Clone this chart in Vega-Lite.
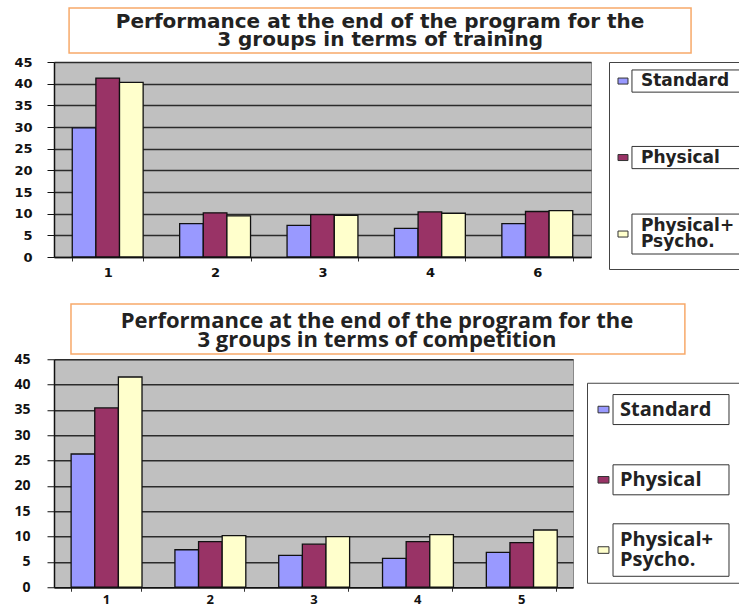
{
  "$schema": "https://vega.github.io/schema/vega-lite/v6.json",
  "padding": {"left": 13, "top": 7, "right": 0, "bottom": 0},
  "background": "white",
  "spacing": 23,
  "datasets": {
    "training": [
      {"group": "1", "series": "Standard", "value": 29.8},
      {"group": "1", "series": "Physical", "value": 41.3},
      {"group": "1", "series": "Physical+ Psycho.", "value": 40.3},
      {"group": "2", "series": "Standard", "value": 7.7},
      {"group": "2", "series": "Physical", "value": 10.2},
      {"group": "2", "series": "Physical+ Psycho.", "value": 9.5},
      {"group": "3", "series": "Standard", "value": 7.3},
      {"group": "3", "series": "Physical", "value": 9.8},
      {"group": "3", "series": "Physical+ Psycho.", "value": 9.6},
      {"group": "4", "series": "Standard", "value": 6.6},
      {"group": "4", "series": "Physical", "value": 10.4},
      {"group": "4", "series": "Physical+ Psycho.", "value": 10.1},
      {"group": "6", "series": "Standard", "value": 7.7},
      {"group": "6", "series": "Physical", "value": 10.5},
      {"group": "6", "series": "Physical+ Psycho.", "value": 10.7}
    ],
    "competition": [
      {"group": "1", "series": "Standard", "value": 26.3},
      {"group": "1", "series": "Physical", "value": 35.4},
      {"group": "1", "series": "Physical+ Psycho.", "value": 41.5},
      {"group": "2", "series": "Standard", "value": 7.4},
      {"group": "2", "series": "Physical", "value": 9.0},
      {"group": "2", "series": "Physical+ Psycho.", "value": 10.2},
      {"group": "3", "series": "Standard", "value": 6.3},
      {"group": "3", "series": "Physical", "value": 8.5},
      {"group": "3", "series": "Physical+ Psycho.", "value": 10.0},
      {"group": "4", "series": "Standard", "value": 5.7},
      {"group": "4", "series": "Physical", "value": 9.0},
      {"group": "4", "series": "Physical+ Psycho.", "value": 10.4},
      {"group": "5", "series": "Standard", "value": 6.9},
      {"group": "5", "series": "Physical", "value": 8.8},
      {"group": "5", "series": "Physical+ Psycho.", "value": 11.3}
    ],
    "legend": [
      {"series": "Standard", "label": "Standard"},
      {"series": "Physical", "label": "Physical"},
      {"series": "Physical+ Psycho.", "label": "Physical+\nPsycho."}
    ],
    "titles": [
      {"chart": "training"},
      {"chart": "competition"}
    ]
  },
  "config": {
    "view": {"fill": "#c0c0c0", "stroke": "#8a8a8a"}
  },
  "vconcat": [
    {
      "spacing": 1,
      "vconcat": [
        {
          "width": 685,
          "height": 45,
          "view": {"stroke": null, "fill": null},
          "data": {"name": "titles"},
          "transform": [{"filter": "datum.chart == 'training'"}],
          "layer": [
            {
              "mark": {"type": "rect", "fill": "white", "stroke": "#f7a96a", "strokeWidth": 1.5},
              "encoding": {
                "x": {"datum": 0.022, "type": "quantitative", "scale": {"domain": [0, 1], "nice": false, "zero": false}, "axis": null},
                "x2": {"datum": 0.93}
              }
            },
            {
              "mark": {"type": "text", "align": "center", "baseline": "middle", "dy": -9, "font": "DejaVu Sans", "fontWeight": "bold", "fontSize": 20, "lineHeight": 18, "color": "#222222"},
              "encoding": {
                "x": {"datum": 0.476, "type": "quantitative"},
                "text": {"value": ["Performance at the end of the program for the", "3 groups in terms of training"]}
              }
            }
          ]
        },
        {
          "spacing": 16,
          "hconcat": [
            {
              "width": 537,
              "height": 195,
              "data": {"name": "training"},
              "mark": {"type": "bar", "stroke": "#111111", "strokeWidth": 1.3},
              "encoding": {
                "x": {
                  "field": "group", "type": "nominal", "sort": null,
                  "scale": {"paddingInner": 0.34, "paddingOuter": 0.17},
                  "axis": {"title": null, "labelAngle": 0, "tickBand": "extent", "domainColor": "#111111", "domainWidth": 1.5, "tickColor": "#333333", "tickSize": 4, "labelPadding": 5, "labelFont": "DejaVu Sans", "labelFontSize": 13, "labelFontWeight": "bold", "labelColor": "#111111", "grid": false}
                },
                "xOffset": {"field": "series", "type": "nominal", "sort": ["Standard", "Physical", "Physical+ Psycho."], "scale": {"paddingInner": 0, "paddingOuter": 0}},
                "y": {
                  "field": "value", "type": "quantitative",
                  "scale": {"domain": [0, 45], "nice": false},
                  "axis": {"title": null, "values": [0, 5, 10, 15, 20, 25, 30, 35, 40, 45], "grid": true, "gridColor": "#2b2b2b", "gridWidth": 1.5, "domainColor": "#111111", "domainWidth": 1.5, "tickColor": "#111111", "tickSize": 7, "labelPadding": 15, "labelFont": "DejaVu Sans", "labelFontSize": 13, "labelFontWeight": "bold", "labelColor": "#111111"}
                },
                "color": {"field": "series", "type": "nominal", "scale": {"domain": ["Standard", "Physical", "Physical+ Psycho."], "range": ["#9999ff", "#993366", "#ffffcc"]}, "legend": null}
              }
            },
            {
              "width": 132,
              "height": 207,
              "data": {"name": "legend"},
              "view": {"stroke": "#444444", "fill": "white"},
              "layer": [
                {
                  "transform": [{"filter": "datum.series != 'Physical+ Psycho.'"}],
                  "mark": {"type": "bar", "fill": "white", "stroke": "#333333", "strokeWidth": 1},
                  "encoding": {
                    "y": {"field": "series", "type": "nominal", "scale": {"domain": ["Standard", "Physical", "Physical+ Psycho."], "paddingInner": 0.71, "paddingOuter": 0.208, "align": 0.25}, "axis": null},
                    "x": {"datum": 0.174, "type": "quantitative", "scale": {"domain": [0, 1], "nice": false, "zero": false}, "axis": null},
                    "x2": {"datum": 0.992}
                  }
                },
                {
                  "transform": [{"filter": "datum.series == 'Physical+ Psycho.'"}],
                  "mark": {"type": "bar", "fill": "white", "stroke": "#333333", "strokeWidth": 1, "height": {"band": 1.8}},
                  "encoding": {
                    "y": {"field": "series", "type": "nominal", "axis": null},
                    "x": {"datum": 0.174, "type": "quantitative"},
                    "x2": {"datum": 0.992}
                  }
                },
                {
                  "mark": {"type": "point", "shape": "M-1,-0.6H1V0.6H-1Z", "filled": true, "size": 100, "stroke": "#333333", "strokeWidth": 1, "opacity": 1},
                  "encoding": {
                    "y": {"field": "series", "type": "nominal", "axis": null},
                    "x": {"datum": 0.106, "type": "quantitative"},
                    "color": {"field": "series", "type": "nominal", "scale": {"domain": ["Standard", "Physical", "Physical+ Psycho."], "range": ["#9999ff", "#993366", "#ffffcc"]}, "legend": null}
                  }
                },
                {
                  "transform": [{"filter": "datum.series != 'Physical+ Psycho.'"}],
                  "mark": {"type": "text", "align": "left", "baseline": "middle", "font": "DejaVu Sans", "fontWeight": "bold", "fontSize": 17, "color": "#222222"},
                  "encoding": {
                    "y": {"field": "series", "type": "nominal", "axis": null},
                    "x": {"datum": 0.242, "type": "quantitative"},
                    "text": {"field": "label"}
                  }
                },
                {
                  "transform": [{"filter": "datum.series == 'Physical+ Psycho.'"}],
                  "mark": {"type": "text", "align": "left", "baseline": "middle", "lineBreak": "\n", "dy": -8, "font": "DejaVu Sans", "fontWeight": "bold", "fontSize": 17, "lineHeight": 16, "color": "#222222"},
                  "encoding": {
                    "y": {"field": "series", "type": "nominal", "axis": null},
                    "x": {"datum": 0.242, "type": "quantitative"},
                    "text": {"field": "label"}
                  }
                }
              ]
            }
          ]
        }
      ]
    },
    {
      "spacing": -4,
      "vconcat": [
        {
          "width": 685,
          "height": 50,
          "view": {"stroke": null, "fill": null},
          "data": {"name": "titles"},
          "transform": [{"filter": "datum.chart == 'competition'"}],
          "layer": [
            {
              "mark": {"type": "rect", "fill": "white", "stroke": "#f7a96a", "strokeWidth": 1.5},
              "encoding": {
                "x": {"datum": 0.0248, "type": "quantitative", "scale": {"domain": [0, 1], "nice": false, "zero": false}, "axis": null},
                "x2": {"datum": 0.921}
              }
            },
            {
              "mark": {"type": "text", "align": "center", "baseline": "middle", "dy": -8, "font": "Open Sans", "fontWeight": "bold", "fontSize": 22, "lineHeight": 19, "color": "#222222"},
              "encoding": {
                "x": {"datum": 0.4715, "type": "quantitative"},
                "text": {"value": ["Performance at the end of the program for the", "3 groups in terms of competition"]}
              }
            }
          ]
        },
        {
          "spacing": 12,
          "center": true,
          "hconcat": [
            {
              "width": 519,
              "height": 228,
              "data": {"name": "competition"},
              "mark": {"type": "bar", "stroke": "#111111", "strokeWidth": 1.3},
              "encoding": {
                "x": {
                  "field": "group", "type": "nominal", "sort": null,
                  "scale": {"paddingInner": 0.33, "paddingOuter": 0.165},
                  "axis": {"title": null, "labelAngle": 0, "tickBand": "extent", "domainColor": "#111111", "domainWidth": 1.5, "tickColor": "#333333", "tickSize": 4, "labelPadding": 2, "labelFont": "Open Sans", "labelFontSize": 13, "labelFontWeight": "bold", "labelColor": "#111111", "grid": false}
                },
                "xOffset": {"field": "series", "type": "nominal", "sort": ["Standard", "Physical", "Physical+ Psycho."], "scale": {"paddingInner": 0, "paddingOuter": 0}},
                "y": {
                  "field": "value", "type": "quantitative",
                  "scale": {"domain": [0, 45], "nice": false},
                  "axis": {"title": null, "values": [0, 5, 10, 15, 20, 25, 30, 35, 40, 45], "grid": true, "gridColor": "#2b2b2b", "gridWidth": 1.5, "domainColor": "#111111", "domainWidth": 1.5, "tickColor": "#111111", "tickSize": 7, "labelPadding": 17, "labelFont": "Open Sans", "labelFontSize": 14, "labelFontWeight": "bold", "labelColor": "#111111"}
                },
                "color": {"field": "series", "type": "nominal", "scale": {"domain": ["Standard", "Physical", "Physical+ Psycho."], "range": ["#9999ff", "#993366", "#ffffcc"]}, "legend": null}
              }
            },
            {
              "width": 154,
              "height": 200,
              "data": {"name": "legend"},
              "view": {"stroke": "#444444", "fill": "white"},
              "layer": [
                {
                  "transform": [{"filter": "datum.series != 'Physical+ Psycho.'"}],
                  "mark": {"type": "bar", "fill": "white", "stroke": "#333333", "strokeWidth": 1},
                  "encoding": {
                    "y": {"field": "series", "type": "nominal", "scale": {"domain": ["Standard", "Physical", "Physical+ Psycho."], "paddingInner": 0.573, "paddingOuter": 0.21, "align": 0.4}, "axis": null},
                    "x": {"datum": 0.169, "type": "quantitative", "scale": {"domain": [0, 1], "nice": false, "zero": false}, "axis": null},
                    "x2": {"datum": 0.922}
                  }
                },
                {
                  "transform": [{"filter": "datum.series == 'Physical+ Psycho.'"}],
                  "mark": {"type": "bar", "fill": "white", "stroke": "#333333", "strokeWidth": 1, "height": {"band": 1.75}},
                  "encoding": {
                    "y": {"field": "series", "type": "nominal", "axis": null},
                    "x": {"datum": 0.169, "type": "quantitative"},
                    "x2": {"datum": 0.922}
                  }
                },
                {
                  "mark": {"type": "point", "shape": "M-1,-0.6H1V0.6H-1Z", "filled": true, "size": 120, "stroke": "#333333", "strokeWidth": 1, "opacity": 1},
                  "encoding": {
                    "y": {"field": "series", "type": "nominal", "axis": null},
                    "x": {"datum": 0.107, "type": "quantitative"},
                    "color": {"field": "series", "type": "nominal", "scale": {"domain": ["Standard", "Physical", "Physical+ Psycho."], "range": ["#9999ff", "#993366", "#ffffcc"]}, "legend": null}
                  }
                },
                {
                  "transform": [{"filter": "datum.series != 'Physical+ Psycho.'"}],
                  "mark": {"type": "text", "align": "left", "baseline": "middle", "font": "Open Sans", "fontWeight": "bold", "fontSize": 20, "color": "#222222"},
                  "encoding": {
                    "y": {"field": "series", "type": "nominal", "axis": null},
                    "x": {"datum": 0.214, "type": "quantitative"},
                    "text": {"field": "label"}
                  }
                },
                {
                  "transform": [{"filter": "datum.series == 'Physical+ Psycho.'"}],
                  "mark": {"type": "text", "align": "left", "baseline": "middle", "lineBreak": "\n", "dy": -10, "font": "Open Sans", "fontWeight": "bold", "fontSize": 20, "lineHeight": 20, "color": "#222222"},
                  "encoding": {
                    "y": {"field": "series", "type": "nominal", "axis": null},
                    "x": {"datum": 0.214, "type": "quantitative"},
                    "text": {"field": "label"}
                  }
                }
              ]
            }
          ]
        }
      ]
    }
  ]
}
